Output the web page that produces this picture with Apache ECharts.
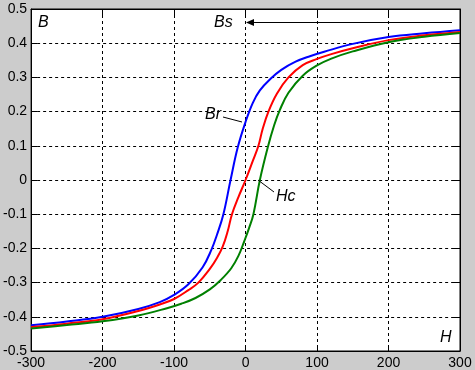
<!DOCTYPE html>
<html><head><meta charset="utf-8">
<script src="https://cdn.jsdelivr.net/npm/echarts/dist/echarts.min.js"></script>
<style>html,body{margin:0;padding:0;background:#cccccc}#c{width:475px;height:370px}</style>
</head><body><div id="c"></div>
<script>
// Tick values
const xTicks = [-300, -200, -100, 0, 100, 200, 300];
const yTicks = [-0.5, -0.4, -0.3, -0.2, -0.1, 0, 0.1, 0.2, 0.3, 0.4, 0.5];

// Blue branch (H, B)
const blueH = [-300, -250, -200, -150, -120, -100, -80, -60, -48, -40, -31, -21, -11, 0, 10, 20, 35, 50, 70, 90, 110, 150, 200, 250, 300];
const blueB = [-0.425, -0.414, -0.400, -0.377, -0.357, -0.336, -0.305, -0.255, -0.205, -0.160, -0.100, 0.000, 0.095, 0.170, 0.225, 0.262, 0.296, 0.322, 0.346, 0.362, 0.375, 0.398, 0.418, 0.429, 0.438];

// Red curve (H, B)
const redH = [-300, -250, -200, -150, -120, -100, -80, -66, -50, -40, -32, -25, -19, -10, 0, 10, 18, 24, 32, 44, 60, 80, 100, 120, 150, 200, 250, 300];
const redB = [-0.430, -0.420, -0.407, -0.383, -0.364, -0.348, -0.322, -0.300, -0.260, -0.228, -0.195, -0.150, -0.100, -0.050, 0.000, 0.055, 0.100, 0.150, 0.200, 0.253, 0.300, 0.336, 0.354, 0.368, 0.385, 0.409, 0.423, 0.433];

// Green branch (H, B)
const greenH = [-300, -250, -200, -150, -110, -90, -70, -50, -35, -20, -10, -2, 5, 11, 20, 31, 40, 48, 60, 80, 100, 120, 150, 200, 250, 300];
const greenB = [-0.434, -0.424, -0.413, -0.396, -0.375, -0.362, -0.345, -0.320, -0.293, -0.258, -0.222, -0.180, -0.140, -0.100, 0.000, 0.095, 0.160, 0.205, 0.255, 0.305, 0.335, 0.355, 0.376, 0.403, 0.419, 0.430];

const zip = (a, b) => a.map((v, i) => [v, b[i]]);

const chart = echarts.init(document.getElementById('c'), null, {renderer: 'canvas'});
const font = 'Arial, "Liberation Sans", sans-serif';
const dash = {type: [3, 3], color: '#000', width: 1};

function mkLine(name, h, b, color) {
  return {
    name: name, type: 'line', data: zip(h, b), showSymbol: false, symbol: 'none',
    smooth: 0.4,
    lineStyle: {color: color, width: 2}, itemStyle: {color: color},
    xAxisIndex: 0, yAxisIndex: 0, z: 5, silent: true
  };
}

chart.setOption({
  backgroundColor: '#cccccc',
  animation: false,
  grid: {left: 26, right: 15, top: 9, bottom: 19, show: true, backgroundColor: '#ffffff', borderColor: '#000', borderWidth: 1},
  xAxis: [{
    type: 'value', min: -300, max: 300, interval: 100, position: 'bottom',
    axisLine: {show: true, onZero: false, lineStyle: {color: '#000', width: 1}},
    axisTick: {show: true, inside: true, length: 6, lineStyle: {color: '#000'}},
    axisLabel: {color: '#000', fontSize: 14, fontFamily: font, margin: 5, showMinLabel: true, showMaxLabel: true},
    splitLine: {show: true, lineStyle: dash}
  }, {
    type: 'value', min: -300, max: 300, interval: 100, position: 'top',
    axisLine: {show: true, onZero: false, lineStyle: {color: '#000', width: 1}},
    axisTick: {show: true, inside: true, length: 6, lineStyle: {color: '#000'}},
    axisLabel: {show: false}, splitLine: {show: false}
  }],
  yAxis: [{
    type: 'value', min: -0.5, max: 0.5, interval: 0.1, position: 'left',
    axisLine: {show: true, onZero: false, lineStyle: {color: '#000', width: 1}},
    axisTick: {show: true, inside: true, length: 6, lineStyle: {color: '#000'}},
    axisLabel: {color: '#000', fontSize: 14, fontFamily: font, margin: 4, showMinLabel: true, showMaxLabel: true,
      formatter: v => String(Math.round(v * 10) / 10)},
    splitLine: {show: true, lineStyle: dash}
  }, {
    type: 'value', min: -0.5, max: 0.5, interval: 0.1, position: 'right',
    axisLine: {show: true, onZero: false, lineStyle: {color: '#000', width: 1}},
    axisTick: {show: true, inside: true, length: 6, lineStyle: {color: '#000'}},
    axisLabel: {show: false}, splitLine: {show: false}
  }],
  series: [
    mkLine('blue', blueH, blueB, '#0000ff'),
    mkLine('red', redH, redB, '#ff0000'),
    mkLine('green', greenH, greenB, '#008000')
  ],
  graphic: [
    {type: 'text', left: 38, top: 15, z: 10, style: {text: 'B', font: 'italic 16px ' + font, fill: '#000'}},
    {type: 'text', left: 214, top: 15, z: 10, style: {text: 'Bs', font: 'italic 16px ' + font, fill: '#000'}},
    {type: 'line', z: 10, shape: {x1: 452, y1: 22.5, x2: 250, y2: 22.5}, style: {stroke: '#000', lineWidth: 1}},
    {type: 'polygon', z: 10, shape: {points: [[246, 22.5], [254, 19], [254, 26]]}, style: {fill: '#000'}},
    {type: 'text', left: 205, top: 107, z: 10, style: {text: 'Br', font: 'italic 16px ' + font, fill: '#000'}},
    {type: 'line', z: 10, shape: {x1: 223, y1: 117, x2: 242, y2: 122}, style: {stroke: '#000', lineWidth: 1}},
    {type: 'text', left: 276, top: 189, z: 10, style: {text: 'Hc', font: 'italic 16px ' + font, fill: '#000'}},
    {type: 'line', z: 10, shape: {x1: 258, y1: 180, x2: 274, y2: 192}, style: {stroke: '#000', lineWidth: 1}},
    {type: 'text', left: 440, top: 330, z: 10, style: {text: 'H', font: 'italic 16px ' + font, fill: '#000'}}
  ]
});
</script></body></html>
